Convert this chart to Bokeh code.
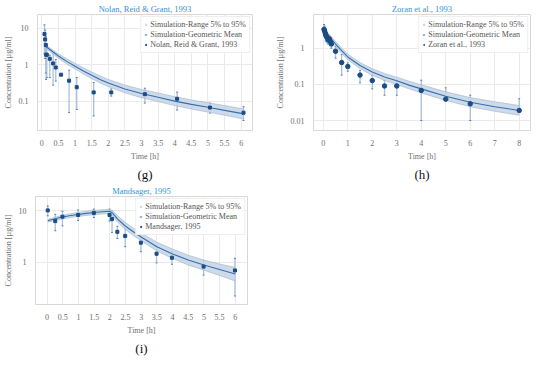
from bokeh.plotting import figure
from bokeh.layouts import column, row
from bokeh.models import (FixedTicker, CustomJSTickFormatter, Title, ColumnDataSource,
                          Whisker, TeeHead, Range1d, Legend, LegendItem)
from bokeh.embed import file_html
from bokeh.resources import INLINE

FONT = "Liberation Serif"

# ---------------- (g) Nolan, Reid & Grant, 1993 ----------------
g_sim_t = [0.1, 0.25, 0.5, 0.75, 1, 1.25, 1.5, 1.75, 2, 2.5, 3, 3.5, 4, 4.5, 5, 5.5, 6, 6.05]
g_sim_m = [3.3, 2.6, 1.75, 1.25, 0.92, 0.68, 0.52, 0.40, 0.32, 0.22, 0.165, 0.13, 0.102, 0.083, 0.069, 0.057, 0.047, 0.046]
g_sim_lo = [3.0, 2.3, 1.52, 1.06, 0.77, 0.56, 0.42, 0.32, 0.255, 0.172, 0.127, 0.099, 0.077, 0.062, 0.051, 0.042, 0.034, 0.033]
g_sim_hi = [3.6, 2.9, 2.0, 1.47, 1.1, 0.83, 0.64, 0.50, 0.40, 0.28, 0.213, 0.17, 0.135, 0.11, 0.092, 0.077, 0.064, 0.063]
g_obs_t = [0.08, 0.1, 0.12, 0.13, 0.15, 0.24, 0.34, 0.42, 0.58, 0.82, 1.05, 1.56, 2.09, 3.1, 4.07, 5.06, 6.07]
g_obs_c = [7.0, 5.0, 3.5, 1.9, 1.9, 1.47, 1.1, 0.85, 0.54, 0.37, 0.245, 0.177, 0.177, 0.158, 0.118, 0.068, 0.049]
g_obs_lo = [2.0, 1.5, 0.6, 0.4, 0.45, 0.45, 0.28, 0.36, 0.54, 0.05, 0.06, 0.04, 0.14, 0.09, 0.058, 0.048, 0.03]
g_obs_hi = [12.5, 9.0, 6.0, 3.5, 3.0, 1.85, 2.1, 1.4, 0.54, 0.72, 0.45, 0.33, 0.22, 0.23, 0.18, 0.09, 0.072]
g_xticks = [0, 0.5, 1, 1.5, 2, 2.5, 3, 3.5, 4, 4.5, 5, 5.5, 6]
g_yticks = [0.1, 1, 10]

# ---------------- (h) Zoran et al., 1993 ----------------
h_sim_t = [0.05, 0.1, 0.2, 0.3, 0.5, 0.75, 1, 1.5, 2, 2.5, 3, 3.5, 4, 5, 6, 7, 8]
h_sim_m = [3.1, 2.8, 2.3, 1.9, 1.3, 0.85, 0.57, 0.33, 0.22, 0.16, 0.125, 0.095, 0.075, 0.047, 0.032, 0.024, 0.019]
h_sim_lo = [2.8, 2.5, 2.0, 1.65, 1.12, 0.72, 0.48, 0.27, 0.178, 0.128, 0.099, 0.075, 0.058, 0.036, 0.024, 0.018, 0.014]
h_sim_hi = [3.4, 3.1, 2.6, 2.2, 1.52, 1.0, 0.68, 0.40, 0.27, 0.20, 0.158, 0.122, 0.097, 0.062, 0.043, 0.033, 0.026]
h_obs_t = [0.03, 0.05, 0.08, 0.1, 0.13, 0.17, 0.2, 0.25, 0.3, 0.33, 0.5, 0.75, 1, 1.5, 2, 2.5, 3, 4, 5, 6, 8]
h_obs_c = [3.3, 3.0, 2.6, 2.3, 2.1, 1.9, 1.7, 1.8, 1.5, 1.3, 0.82, 0.40, 0.31, 0.18, 0.127, 0.09, 0.09, 0.068, 0.039, 0.029, 0.019]
h_obs_lo = [2.5, 2.2, 1.9, 1.6, 1.5, 1.4, 1.3, 1.4, 1.2, 1.0, 0.53, 0.18, 0.23, 0.11, 0.075, 0.05, 0.05, 0.01, 0.039, 0.01, 0.019]
h_obs_hi = [4.5, 4.0, 3.4, 3.0, 2.7, 2.4, 2.2, 2.2, 1.9, 1.6, 1.1, 0.66, 0.39, 0.24, 0.18, 0.13, 0.13, 0.13, 0.08, 0.05, 0.04]
h_xticks = [0, 1, 2, 3, 4, 5, 6, 7, 8]
h_yticks = [0.01, 0.1, 1]

# ---------------- (i) Mandsager, 1995 ----------------
i_sim_t = [0.02, 0.25, 0.5, 0.75, 1, 1.25, 1.5, 1.75, 2, 2.1, 2.25, 2.5, 2.75, 3, 3.5, 4, 4.5, 5, 5.5, 6]
i_sim_m = [6.4, 7.0, 7.6, 8.1, 8.5, 8.9, 9.3, 9.6, 9.8, 8.8, 6.9, 5.0, 3.9, 3.1, 2.0, 1.45, 1.1, 0.88, 0.72, 0.59]
i_sim_lo = [6.0, 6.5, 7.0, 7.4, 7.8, 8.1, 8.4, 8.7, 8.9, 7.8, 6.0, 4.3, 3.3, 2.6, 1.65, 1.18, 0.88, 0.70, 0.55, 0.43]
i_sim_hi = [6.8, 7.5, 8.2, 8.8, 9.3, 9.8, 10.2, 10.5, 10.7, 9.9, 8.0, 5.9, 4.6, 3.7, 2.45, 1.8, 1.37, 1.1, 0.92, 0.79]
i_obs_t = [0.02, 0.26, 0.49, 0.99, 1.49, 1.99, 2.07, 2.24, 2.49, 2.99, 3.49, 3.98, 4.99, 5.99]
i_obs_c = [10.2, 6.3, 7.7, 8.3, 9.1, 8.3, 6.9, 3.9, 3.25, 2.4, 1.46, 1.22, 0.82, 0.69]
i_obs_lo = [8.0, 4.1, 5.1, 6.5, 7.4, 6.3, 3.8, 2.9, 2.0, 1.6, 0.97, 0.91, 0.56, 0.22]
i_obs_hi = [12.4, 8.5, 9.8, 10.4, 10.8, 10.8, 9.8, 5.0, 4.5, 3.1, 2.0, 1.6, 1.07, 1.19]
i_xticks = [0, 0.5, 1, 1.5, 2, 2.5, 3, 3.5, 4, 4.5, 5, 5.5, 6]
i_yticks = [1, 10]

BAND_FILL = "#c6d4e5"
BAND_EDGE = "#9ab3cf"
MEAN_C = "#3470ab"
OBS_C = "#1a4c86"
ERR_C = "#a9c0d9"
ERR_HEAD = "#5580b0"
GRID_C = "#eaeaea"
TXT_C = "#6e6e6e"


def panel(title, tag, width, height, xr, yr, xticks, yticks,
          st, slo, sm, shi, ot, oc, olo, ohi, obs_label, marker, msize,
          min_left, min_right):
    p = figure(width=width, height=height, y_axis_type="log",
               x_range=Range1d(*xr), y_range=Range1d(*yr),
               output_backend="svg", toolbar_location=None,
               min_border_left=min_left, min_border_right=min_right,
               min_border_top=2, min_border_bottom=0)
    p.title.text = title
    p.title.align = "center"
    p.title.text_font = FONT
    p.title.text_font_size = "8.5px"
    p.title.text_font_style = "normal"
    p.title.text_color = "#2b95de"
    p.title.standoff = 2
    p.title.offset = 0

    p.add_layout(Title(text=tag, align="center", text_font=FONT,
                       text_font_size="13px", text_font_style="normal",
                       text_color="#111111", standoff=2), "below")

    xt = FixedTicker(ticks=xticks)
    yt = FixedTicker(ticks=yticks)
    fmt = "return tick.toString();"
    p.xaxis.ticker = xt
    p.yaxis.ticker = yt
    p.xgrid.ticker = xt
    p.ygrid.ticker = yt
    p.xaxis.formatter = CustomJSTickFormatter(code=fmt)
    p.yaxis.formatter = CustomJSTickFormatter(code=fmt)
    for ax in (p.xaxis, p.yaxis):
        ax.axis_line_color = None
        ax.major_tick_line_color = None
        ax.minor_tick_line_color = None
        ax.major_label_text_font = FONT
        ax.major_label_text_font_size = "8px"
        ax.major_label_text_color = TXT_C
        ax.axis_label_text_font = FONT
        ax.axis_label_text_font_size = "8px"
        ax.axis_label_text_font_style = "normal"
        ax.axis_label_text_color = TXT_C
        ax.major_label_standoff = 3
        ax.axis_label_standoff = 3
    p.xaxis.axis_label = "Time [h]"
    p.yaxis.axis_label = "Concentration [µg/ml]"
    p.xgrid.grid_line_color = GRID_C
    p.ygrid.grid_line_color = GRID_C
    p.outline_line_color = "#d8d8d8"
    p.outline_line_width = 1

    band = p.varea(x=st, y1=slo, y2=shi, fill_color=BAND_FILL, fill_alpha=0.85)
    p.line(st, slo, line_color=BAND_EDGE, line_width=0.6)
    p.line(st, shi, line_color=BAND_EDGE, line_width=0.6)
    mean = p.line(st, sm, line_color=MEAN_C, line_width=1.1)

    src = ColumnDataSource(data=dict(t=ot, c=oc, lo=olo, hi=ohi))
    p.add_layout(Whisker(source=src, base="t", lower="lo", upper="hi",
                         line_color=ERR_C, line_width=1.3,
                         upper_head=TeeHead(size=2, line_color=ERR_HEAD, line_width=1),
                         lower_head=TeeHead(size=2, line_color=ERR_HEAD, line_width=1)))
    obs = p.scatter("t", "c", source=src, marker=marker, size=msize,
                    fill_color=OBS_C, line_color=OBS_C)

    legend = Legend(items=[
        LegendItem(label="Simulation-Range 5% to 95%", renderers=[band]),
        LegendItem(label="Simulation-Geometric Mean", renderers=[mean]),
        LegendItem(label=obs_label, renderers=[obs]),
    ], location="top_right")
    legend.label_text_font = FONT
    legend.label_text_font_size = "8px"
    legend.label_text_color = "#555555"
    legend.glyph_width = 3
    legend.glyph_height = 3
    legend.label_height = 9
    legend.label_standoff = 3
    legend.spacing = 1
    legend.padding = 3
    legend.margin = 2
    legend.border_line_color = "#dddddd"
    legend.background_fill_alpha = 0.95
    p.add_layout(legend, "center")
    return p


pg = panel("Nolan, Reid & Grant, 1993", "(g)", 272, 182, (-0.13, 6.34), (0.016, 24),
           g_xticks, g_yticks, g_sim_t, g_sim_lo, g_sim_m, g_sim_hi,
           g_obs_t, g_obs_c, g_obs_lo, g_obs_hi, "Nolan, Reid & Grant, 1993",
           "square", 3, 5, 20)
ph = panel("Zoran et al., 1993", "(h)", 262, 182, (-0.4, 8.46), (0.0053, 8.5),
           h_xticks, h_yticks, h_sim_t, h_sim_lo, h_sim_m, h_sim_hi,
           h_obs_t, h_obs_c, h_obs_lo, h_obs_hi, "Zoran et al., 1993",
           "circle", 4.5, 5, 4)
pi = panel("Mandsager, 1995", "(i)", 272, 174, (-0.37, 6.39), (0.15, 19),
           i_xticks, i_yticks, i_sim_t, i_sim_lo, i_sim_m, i_sim_hi,
           i_obs_t, i_obs_c, i_obs_lo, i_obs_hi, "Mandsager, 1995",
           "square", 3, 5, 25)

layout = column(row(pg, ph), row(pi))
open("out.html", "w").write(file_html(layout, INLINE))
